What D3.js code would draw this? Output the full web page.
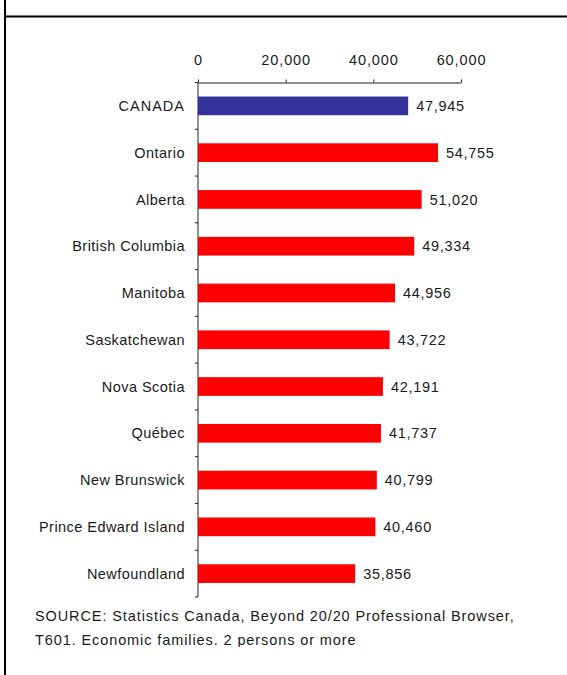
<!DOCTYPE html>
<html>
<head>
<meta charset="utf-8">
<script src="https://cdn.jsdelivr.net/npm/d3@7/dist/d3.min.js"></script>
<style>
  html, body { margin: 0; padding: 0; background: #fff; }
  svg { display: block; }
  text { font-family: "Liberation Sans", Arial, sans-serif; fill: #1a1a1a; }
</style>
</head>
<body>
<script>
// ---- data ----
const categories = ["CANADA", "Ontario", "Alberta", "British Columbia", "Manitoba",
  "Saskatchewan", "Nova Scotia", "Québec", "New Brunswick", "Prince Edward Island", "Newfoundland"];
const values = [47945, 54755, 51020, 49334, 44956, 43722, 42191, 41737, 40799, 40460, 35856];
const tickValues = [0, 20000, 40000, 60000];
const sourceLines = [
  "SOURCE: Statistics Canada, Beyond 20/20 Professional Browser,",
  "T601. Economic families. 2 persons or more"
];

const W = 567, H = 675;
const svg = d3.select("body").append("svg").attr("width", W).attr("height", H);

// frame
svg.append("line").attr("x1", 5).attr("x2", 5).attr("y1", 0).attr("y2", H)
  .attr("stroke", "#000").attr("stroke-width", 2);
svg.append("line").attr("x1", 5).attr("x2", W).attr("y1", 16.5).attr("y2", 16.5)
  .attr("stroke", "#000").attr("stroke-width", 2);

const x = d3.scaleLinear().domain([0, 60000]).range([198, 461]);
const y = d3.scaleBand().domain(categories).range([82.5, 597]).paddingInner(0.6).paddingOuter(0.3);

// top axis
const xAxis = d3.axisTop(x).tickValues(tickValues).tickSize(3).tickSizeOuter(0)
  .tickPadding(15).tickFormat(d3.format(","));
const gx = svg.append("g").attr("transform", `translate(0,${y.range()[0]})`).call(xAxis);
gx.select(".domain").attr("stroke", "#222");
gx.selectAll(".tick line").attr("stroke", "#222");
gx.selectAll("text").attr("font-size", 14.5).attr("letter-spacing", 0.9)
  .attr("font-family", "Liberation Sans, Arial, sans-serif").attr("fill", "#1a1a1a");

// left axis line with ticks at category boundaries
const x0 = x(0);
svg.append("line").attr("x1", x0).attr("x2", x0)
  .attr("y1", y.range()[0]).attr("y2", y.range()[1]).attr("stroke", "#222");
const boundaries = d3.range(categories.length + 1).map(i => y.range()[0] + i * y.step());
svg.selectAll(".ytick").data(boundaries).join("line")
  .attr("x1", x0 - 3).attr("x2", x0).attr("y1", d => d).attr("y2", d => d)
  .attr("stroke", "#222");

// bars
const data = categories.map((c, i) => ({ c, v: values[i] }));
svg.selectAll(".bar").data(data).join("rect")
  .attr("x", x0).attr("y", d => y(d.c))
  .attr("width", d => x(d.v) - x0).attr("height", y.bandwidth())
  .attr("fill", (d, i) => i === 0 ? "#333399" : "#FF0000");

// category labels
svg.selectAll(".cat").data(data).join("text")
  .attr("x", x0 - 13).attr("y", d => y(d.c) + y.bandwidth() / 2)
  .attr("dy", "0.35em").attr("text-anchor", "end")
  .attr("font-size", 14.5).attr("letter-spacing", d => d.c === d.c.toUpperCase() ? 1.0 : 0.45)
  .text(d => d.c);

// value labels
svg.selectAll(".val").data(data).join("text")
  .attr("x", d => x(d.v) + 8).attr("y", d => y(d.c) + y.bandwidth() / 2)
  .attr("dy", "0.35em")
  .attr("font-size", 14.5).attr("letter-spacing", 0.7)
  .text(d => d3.format(",")(d.v));

// source note (bottom line clipped like the original)
svg.append("clipPath").attr("id", "clipsrc").append("rect")
  .attr("x", 0).attr("y", 600).attr("width", W).attr("height", 47);
svg.append("g").attr("clip-path", "url(#clipsrc)")
  .selectAll("text").data(sourceLines).join("text")
  .attr("x", 35).attr("y", (d, i) => 621 + i * 24)
  .attr("font-size", 14.5).attr("letter-spacing", 0.9)
  .text(d => d);
</script>
</body>
</html>
